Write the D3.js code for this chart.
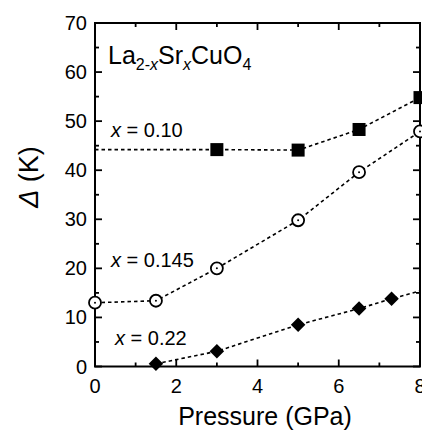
<!DOCTYPE html>
<html>
<head>
<meta charset="utf-8">
<script src="https://cdn.jsdelivr.net/npm/d3@7"></script>
<style>
  body { margin: 0; background: #fff; }
  text { font-family: "Liberation Sans", Arial, sans-serif; fill: #000; }
</style>
</head>
<body>
<div id="chart"></div>
<script>
// pressure (GPa) and gap (K)
const p010 = [3, 5, 6.5, 8];
const d010 = [44.2, 44.1, 48.3, 54.8];
const p0145 = [0, 1.5, 3, 5, 6.5, 8];
const d0145 = [13.0, 13.4, 20.0, 29.8, 39.6, 47.9];
const p022 = [1.5, 3, 5, 6.5, 7.3];
const d022 = [0.55, 3.1, 8.5, 11.8, 13.8];

// dotted guide lines (where they differ from the markers)
const guide010 = [[0, 44.2], [3, 44.2], [5, 44.1], [6.5, 48.3], [8, 54.8]];
const guide022 = [[1.5, 0.55], [3, 3.1], [5, 8.5], [6.5, 11.8], [7.3, 13.8], [8, 15.4]];

const xTicks = [0, 2, 4, 6, 8];
const yTicks = [0, 10, 20, 30, 40, 50, 60, 70];

const W = 422, H = 433;
const svg = d3.select("#chart").append("svg")
    .attr("width", W)
    .attr("height", H);

const x = d3.scaleLinear().domain([0, 8]).range([95, 420]);
const y = d3.scaleLinear().domain([0, 70]).range([366.5, 23]);

// frame
svg.append("rect")
    .attr("x", x(0)).attr("y", y(70))
    .attr("width", x(8) - x(0)).attr("height", y(0) - y(70))
    .attr("fill", "none").attr("stroke", "#000").attr("stroke-width", 2);

// ticks (inward, mirrored on all sides)
const minorX = d3.range(0, 8.01, 1);
const minorY = d3.range(0, 70.01, 5);
minorX.forEach(v => {
    const len = v % 2 === 0 ? 7 : 4;
    svg.append("line").attr("x1", x(v)).attr("x2", x(v))
        .attr("y1", y(0)).attr("y2", y(0) - len).attr("stroke", "#000").attr("stroke-width", 1.8);
    svg.append("line").attr("x1", x(v)).attr("x2", x(v))
        .attr("y1", y(70)).attr("y2", y(70) + len).attr("stroke", "#000").attr("stroke-width", 1.8);
});
minorY.forEach(v => {
    const len = v % 10 === 0 ? 7 : 4;
    svg.append("line").attr("y1", y(v)).attr("y2", y(v))
        .attr("x1", x(0)).attr("x2", x(0) + len).attr("stroke", "#000").attr("stroke-width", 1.8);
    svg.append("line").attr("y1", y(v)).attr("y2", y(v))
        .attr("x1", x(8)).attr("x2", x(8) - len).attr("stroke", "#000").attr("stroke-width", 1.8);
});

// tick labels
svg.selectAll("text.xt").data(xTicks).enter().append("text")
    .attr("class", "xt")
    .attr("x", d => x(d)).attr("y", 393)
    .attr("text-anchor", "middle")
    .style("font-size", "20px")
    .text(d => d);
svg.selectAll("text.yt").data(yTicks).enter().append("text")
    .attr("class", "yt")
    .attr("x", 87).attr("y", d => y(d) + 7)
    .attr("text-anchor", "end")
    .style("font-size", "20px")
    .text(d => d);

// axis titles
svg.append("text")
    .attr("x", 265).attr("y", 425)
    .attr("text-anchor", "middle")
    .style("font-size", "25px")
    .text("Pressure (GPa)");
const yl = svg.append("text")
    .attr("transform", "translate(38,177) rotate(-90)")
    .attr("text-anchor", "middle")
    .style("font-size", "27px");
yl.append("tspan").style("font-style", "italic").text("Δ");
yl.append("tspan").text(" (K)");

// guide lines
const line = d3.line().x(d => x(d[0])).y(d => y(d[1]));
const guide0145 = p0145.map((p, i) => [p, d0145[i]]);
[guide010, guide0145, guide022].forEach(g => {
    svg.append("path")
        .attr("d", line(g))
        .attr("fill", "none")
        .attr("stroke", "#000")
        .attr("stroke-width", 1.6)
        .attr("stroke-dasharray", "3.5,3");
});

// markers
svg.selectAll("rect.sq").data(p010).enter().append("rect")
    .attr("class", "sq")
    .attr("x", (d, i) => x(d) - 6.5).attr("y", (d, i) => y(d010[i]) - 6.5)
    .attr("width", 13).attr("height", 13)
    .attr("fill", "#000");

const circ = svg.selectAll("g.ci").data(p0145).enter().append("g").attr("class", "ci");
circ.append("circle")
    .attr("cx", d => x(d)).attr("cy", (d, i) => y(d0145[i]))
    .attr("r", 6).attr("fill", "#fff").attr("stroke", "#000").attr("stroke-width", 1.8);
circ.append("circle")
    .attr("cx", d => x(d)).attr("cy", (d, i) => y(d0145[i]))
    .attr("r", 1).attr("fill", "#000");

const diamond = d3.symbol().type(d3.symbolDiamond2).size(135);
svg.selectAll("path.dm").data(p022).enter().append("path")
    .attr("class", "dm")
    .attr("d", diamond)
    .attr("transform", (d, i) => `translate(${x(d)},${y(d022[i])})`)
    .attr("fill", "#000");

// labels
const title = svg.append("text").attr("x", 108).attr("y", 64).style("font-size", "25px");
title.append("tspan").text("La");
title.append("tspan").attr("dy", 6).style("font-size", "16px").text("2-");
title.append("tspan").style("font-size", "16px").style("font-style", "italic").text("x");
title.append("tspan").attr("dy", -6).text("Sr");
title.append("tspan").attr("dy", 6).style("font-size", "16px").style("font-style", "italic").text("x");
title.append("tspan").attr("dy", -6).text("CuO");
title.append("tspan").attr("dy", 6).style("font-size", "16px").text("4");

const seriesLabels = [
    { txt: " = 0.10", lx: 111, ly: 137 },
    { txt: " = 0.145", lx: 111, ly: 267 },
    { txt: " = 0.22", lx: 115, ly: 345 }
];
seriesLabels.forEach(s => {
    const t = svg.append("text").attr("x", s.lx).attr("y", s.ly).style("font-size", "20px");
    t.append("tspan").style("font-style", "italic").text("x");
    t.append("tspan").text(s.txt);
});
</script>
</body>
</html>
